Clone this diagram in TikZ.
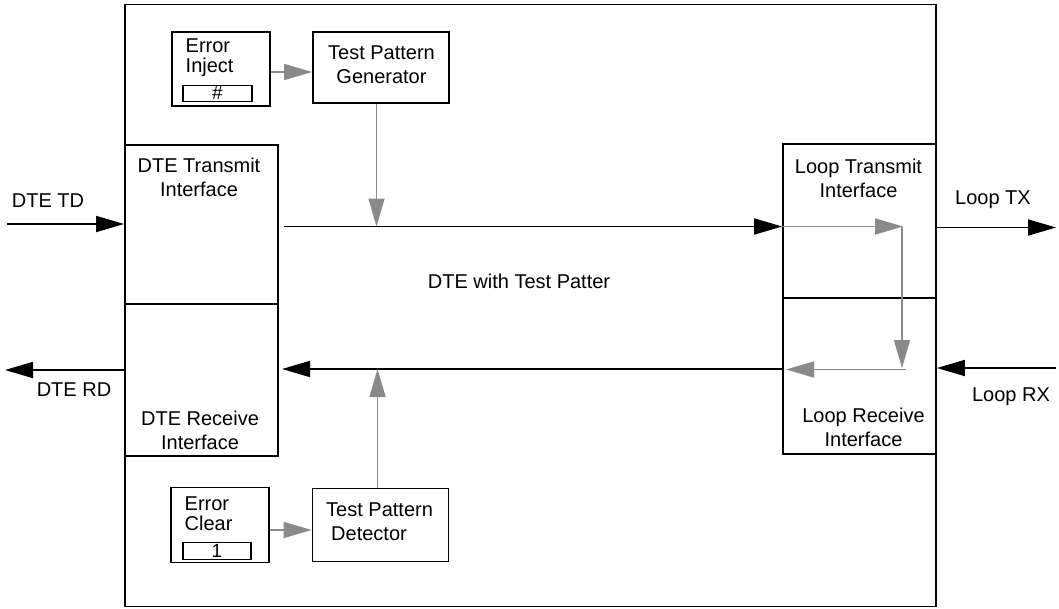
\documentclass[tikz,border=0pt]{standalone}
\usepackage{fontspec}
\setmainfont{Liberation Sans}
\usetikzlibrary{arrows.meta}
\definecolor{pathgray}{HTML}{8A8A8A}
\tikzset{
  box/.style={draw=black, line width=1.8pt, inner sep=0pt},
  lbl/.style={inner sep=0pt, font=\fontsize{20}{24}\selectfont, align=center},
  tight/.style={inner sep=0pt, font=\fontsize{20}{20.5}\selectfont, align=left},
  sig/.style={draw=black, line width=1.8pt, -{Triangle[length=28pt, width=16pt]}},
  tst/.style={draw=pathgray, line width=1.5pt, -{Triangle[length=28pt, width=16pt]}},
}
\begin{document}
\begin{tikzpicture}[x=1pt, y=-1pt]
\useasboundingbox (0,0) rectangle (1059,608);

% enclosure
\node[box, minimum width=811pt, minimum height=602pt] (board) at (530.5,305.5) {};

% DTE side interfaces
\node[box, minimum width=153pt, minimum height=159pt] (dtx) at (201.5,224.5) {};
\node[box, minimum width=153pt, minimum height=152pt] (drx) at (201.5,380) {};
% loop side interfaces
\node[box, minimum width=153pt, minimum height=154pt] (ltx) at (859.5,221) {};
\node[box, minimum width=153pt, minimum height=156pt] (lrx) at (859.5,376) {};

% error inject / generator
\node[box, minimum width=98pt, minimum height=74pt] (inj) at (221,69) {};
\node[box, line width=1.4pt, minimum width=69pt, minimum height=16.5pt] (injreg) at (217.5,93.5) {};
\node[lbl, font=\fontsize{19}{20}\selectfont] (injval) at (217.5,92.5) {\#};
\node[tight, anchor=west] (injtxt) at (185.5,57.5) {Error\\Inject};
\node[box, minimum width=136pt, minimum height=71pt] (gen) at (381,67.5) {};
\node[lbl] (gentxt) at (381.5,65) {Test Pattern\\Generator};

% error clear / detector
\node[box, minimum width=98pt, minimum height=75pt] (clr) at (220,525) {};
\node[box, line width=1.4pt, minimum width=68pt, minimum height=16.5pt] (clrreg) at (217,551) {};
\node[lbl, font=\fontsize{19}{20}\selectfont] (clrval) at (217,550.5) {1};
\node[tight, anchor=west] (clrtxt) at (184.5,513.5) {Error\\Clear};
\node[box, minimum width=136pt, minimum height=73pt] (det) at (380.5,525) {};
\node[lbl, align=left, anchor=west] (dettxt) at (326,522) {Test Pattern\\\hspace*{5pt}Detector};

% interface captions
\node[lbl] (dtxtxt) at (199,177) {DTE Transmit\\Interface};
\node[lbl] (drxtxt) at (200,430) {DTE Receive\\Interface};
\node[lbl] (ltxtxt) at (858.5,178) {Loop Transmit\\Interface};
\node[lbl] (lrxtxt) at (863.5,427) {Loop Receive\\Interface};
\node[lbl] (mid) at (519,281) {DTE with Test Patter};

% external signal names
\node[lbl] (tdname) at (48,201) {DTE TD};
\node[lbl] (rdname) at (74,390) {DTE RD};
\node[lbl] (txname) at (993,200) {Loop TX};
\node[lbl] (rxname) at (1011,397) {Loop RX};

% anchor points of the signal paths
\coordinate (tdin) at (7,224);
\coordinate (rdout) at (5,370);
\coordinate (txout) at (1056,227.5);
\coordinate (rxin) at (1056,368);
\coordinate (fwdstart) at (284,226.5);
\coordinate (revend) at (282,369);
\coordinate (turn) at (902,226.5);
\coordinate (turnend) at (902,368);
\coordinate (retstart) at (906,369.5);

% external signals
\draw[sig] (tdin) -- (tdin -| dtx.west);
\draw[sig] (rdout -| drx.west) -- (rdout);
\draw[sig] (txout -| ltx.east) -- (txout);
\draw[sig] (rxin) -- (rxin -| lrx.east);

% data paths through the unit
\draw[sig] (fwdstart) -- (fwdstart -| ltx.west);
\draw[sig] (revend -| lrx.west) -- (revend);

% loopback path
\draw[tst, shorten >=-1pt] (fwdstart -| ltx.west) -- (turn);
\draw[tst] (turn) -- (turnend);
\draw[tst] (retstart) -- (retstart -| 786,0);

% test pattern insertion and detection
\draw[tst] (gen.south -| 376.5,0) -- (376.5,226.5);
\draw[tst] (det.north -| 377.5,0) -- (377.5,369);
\draw[tst] (inj.east |- 0,72) -- (gen.west |- 0,72);
\draw[tst] (clr.east |- 0,530) -- (det.west |- 0,530);
\end{tikzpicture}
\end{document}
